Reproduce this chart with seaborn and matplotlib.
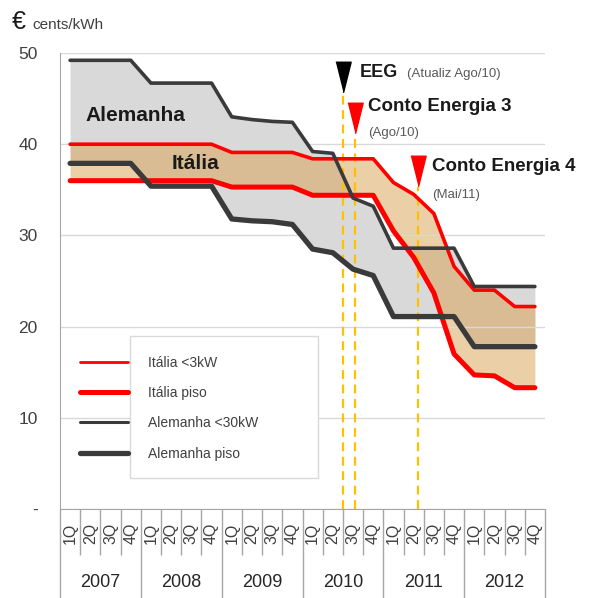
import numpy as np
import pandas as pd
import seaborn as sns
import matplotlib.pyplot as plt
from matplotlib.lines import Line2D
from matplotlib.patches import Rectangle

# quarters 2007 .. 2012
years = ["2007", "2008", "2009", "2010", "2011", "2012"]
quarters = ["1Q", "2Q", "3Q", "4Q"]

ita_3kw = [40.0, 40.0, 40.0, 40.0, 40.0, 40.0, 40.0, 40.0,
           39.1, 39.1, 39.1, 39.1, 38.4, 38.4, 38.4, 38.4,
           35.8, 34.5, 32.4, 26.6, 24.0, 24.0, 22.2, 22.2]
ita_piso = [36.0, 36.0, 36.0, 36.0, 36.0, 36.0, 36.0, 36.0,
            35.3, 35.3, 35.3, 35.3, 34.4, 34.4, 34.4, 34.4,
            30.5, 27.6, 23.7, 17.0, 14.7, 14.6, 13.3, 13.3]
ale_30kw = [49.2, 49.2, 49.2, 49.2, 46.7, 46.7, 46.7, 46.7,
            43.0, 42.7, 42.5, 42.4, 39.2, 39.0, 34.1, 33.2,
            28.6, 28.6, 28.6, 28.6, 24.4, 24.4, 24.4, 24.4]
ale_piso = [37.9, 37.9, 37.9, 37.9, 35.4, 35.4, 35.4, 35.4,
            31.8, 31.6, 31.5, 31.2, 28.5, 28.1, 26.3, 25.6,
            21.1, 21.1, 21.1, 21.1, 17.8, 17.8, 17.8, 17.8]

# events (quarter index) and where the dashed line stops
event_x = [14.0, 14.6, 17.7]
event_top = [45.7, 41.0, 35.3]
event_mark = [47.4, 42.9, 37.1]
event_color = ["black", "red", "red"]

names = ["Itália <3kW", "Itália piso", "Alemanha <30kW", "Alemanha piso"]

sns.set_style("white")
plt.rcParams['font.family'] = ['Liberation Sans', 'DejaVu Sans']

pos = np.arange(len(ita_3kw)) + 0.5
df = pd.DataFrame({"pos": pos, names[0]: ita_3kw, names[1]: ita_piso,
                   names[2]: ale_30kw, names[3]: ale_piso})
long_df = df.melt(id_vars="pos", var_name="serie", value_name="valor")

fig = plt.figure(figsize=(5.92, 5.98), dpi=100)
ax = fig.add_axes([60/592, 89/598, 485/592, 456/598])

# bands
ax.fill_between(df["pos"], df[names[3]], df[names[2]], color="#d9d9d9", lw=0, zorder=1)
ax.fill_between(df["pos"], df[names[1]], df[names[0]], color="#d9a050", alpha=0.5, lw=0, zorder=1.2)

pal = {names[0]: "#ff0000", names[1]: "#ff0000", names[2]: "#3a3a3a", names[3]: "#3a3a3a"}
widths = {names[0]: 2.6, names[1]: 3.6, names[2]: 2.6, names[3]: 3.8}
sns.lineplot(data=long_df, x="pos", y="valor", hue="serie", hue_order=names,
             size="serie", sizes=widths, palette=pal, estimator=None,
             legend=False, ax=ax, zorder=3)

# event lines + triangles
tri = [(-0.5, 1), (0.5, 1), (0, -1)]
ax.vlines(event_x, 0, event_top, colors="#ffc000", linestyles=(0, (4, 2.5)), lw=1.6, zorder=2.8)
for x, y, c in zip(event_x, event_mark, event_color):
    ax.plot(x, y, marker=tri, ms=22, color=c, mec=c, zorder=4, clip_on=False)

ax.text(14.85, 47.9, "EEG", fontsize=13, fontweight="bold", va="center", color="#1a1a1a")
ax.text(17.17, 47.7, "(Atualiz Ago/10)", fontsize=9.5, va="center", color="#595959")
ax.text(15.24, 44.1, "Conto Energia 3", fontsize=13.5, fontweight="bold", va="center", color="#1a1a1a")
ax.text(15.24, 41.2, "(Ago/10)", fontsize=9.5, va="center", color="#595959")
ax.text(18.41, 37.5, "Conto Energia 4", fontsize=13.5, fontweight="bold", va="center",
        color="#1a1a1a", clip_on=False)
ax.text(18.41, 34.4, "(Mai/11)", fontsize=9.5, va="center", color="#595959")
ax.text(1.24, 43.1, "Alemanha", fontsize=15, fontweight="bold", va="center", color="#1a1a1a", zorder=5)
ax.text(5.54, 37.9, "Itália", fontsize=15, fontweight="bold", va="center", color="#1a1a1a", zorder=5)

# axes look
ax.set_xlim(0, 24)
ax.set_ylim(0, 50)
ax.set_yticks([0, 10, 20, 30, 40, 50])
ax.set_yticklabels(["-", "10", "20", "30", "40", "50"])
ax.yaxis.grid(True, color="#d9d9d9", lw=1)
ax.set_axisbelow(False)
ax.tick_params(axis="y", length=6, color="#a6a6a6", labelsize=12.5, labelcolor="#404040", pad=10)
ax.set_xticks(pos)
ax.set_xticklabels(quarters * len(years), rotation=90, fontsize=11.5, color="#404040")
ax.tick_params(axis="x", length=0, pad=10)
ax.set_xlabel("")
ax.set_ylabel("")
sns.despine(ax=ax)
for s in ("left", "bottom"):
    ax.spines[s].set_color("#a6a6a6")
    ax.spines[s].set_zorder(2.6)

# category separators below the axis
xt = ax.get_xaxis_transform()
qsep = [i for i in range(1, 24) if i % 4 != 0]
ax.vlines(qsep, -0.101, 0, transform=xt, colors="#a6a6a6", lw=1, clip_on=False)
ax.vlines(range(0, 25, 4), -0.2, 0, transform=xt, colors="#a6a6a6", lw=1, clip_on=False)
for i, yr in enumerate(years):
    ax.text(4 * i + 2, -0.162, yr, transform=xt, ha="center", va="center", fontsize=13, color="#262626")

# legend with its box
ax.add_patch(Rectangle((0.144, 0.068), 0.388, 0.311, transform=ax.transAxes,
                       facecolor="white", edgecolor="#d9d9d9", lw=1, zorder=2.6))
handles = [Line2D([], [], color="#ff0000", lw=2.0),
           Line2D([], [], color="#ff0000", lw=3.6),
           Line2D([], [], color="#3a3a3a", lw=2.2),
           Line2D([], [], color="#3a3a3a", lw=3.8)]
leg = ax.legend(handles, names, loc="upper left", bbox_to_anchor=(0.0412, 0.336),
                frameon=False, fontsize=10, handlelength=3.45, handletextpad=1.44,
                labelspacing=1.17, borderpad=0, borderaxespad=0, labelcolor="#404040")
leg.set_zorder(5)

fig.text(12/592, 1 - 22/598, "€", fontsize=18, va="center", color="#1a1a1a")
fig.text(32/592, 1 - 25/598, "cents/kWh", fontsize=11, va="center", color="#404040")

fig.savefig("out.png", dpi=100)
